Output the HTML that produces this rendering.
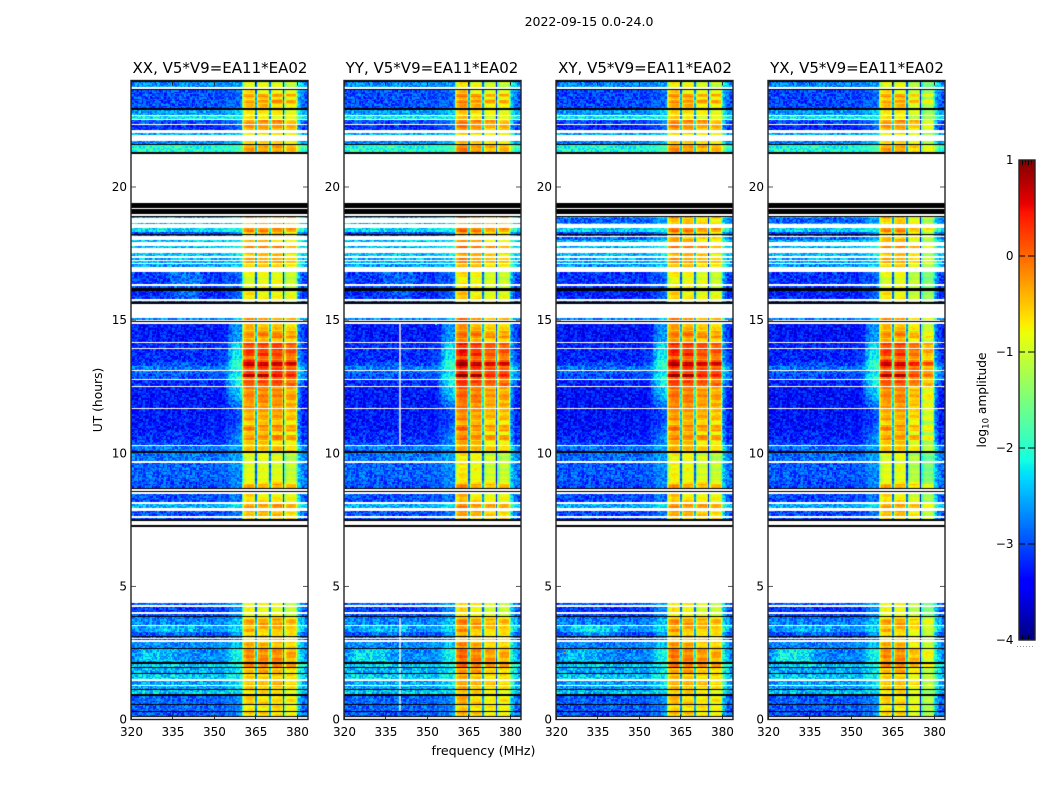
<!DOCTYPE html>
<html>
<head>
<meta charset="utf-8">
<title>Dynamic spectra 2022-09-15</title>
<style>
html,body{margin:0;padding:0;background:#fff;}
#figure{position:relative;width:1050px;height:800px;overflow:hidden;background:#fff;}
canvas{position:absolute;display:block;}
svg{position:absolute;left:0;top:0;}
text{font-family:"DejaVu Sans","Liberation Sans",sans-serif;fill:#000;}
</style>
</head>
<body>
<div id="figure">
<canvas id="hm0" width="177" height="640" style="left:131px;top:80px"></canvas>
<canvas id="hm1" width="177" height="640" style="left:344px;top:80px"></canvas>
<canvas id="hm2" width="177" height="640" style="left:556px;top:80px"></canvas>
<canvas id="hm3" width="177" height="640" style="left:768px;top:80px"></canvas>
<canvas id="cb" width="16" height="480" style="left:1019px;top:160px"></canvas>
<svg id="ov" width="1050" height="800" viewBox="0 0 1050 800">
<text x="589" y="26" text-anchor="middle" font-size="12.5">2022-09-15 0.0-24.0</text>
<text x="220" y="73" text-anchor="middle" font-size="15">XX, V5*V9=EA11*EA02</text>
<text x="432" y="73" text-anchor="middle" font-size="15">YY, V5*V9=EA11*EA02</text>
<text x="645" y="73" text-anchor="middle" font-size="15">XY, V5*V9=EA11*EA02</text>
<text x="857" y="73" text-anchor="middle" font-size="15">YX, V5*V9=EA11*EA02</text>
<text x="483.5" y="755" text-anchor="middle" font-size="12.6">frequency (MHz)</text>
<text transform="translate(102,400) rotate(-90)" text-anchor="middle" font-size="12.3">UT (hours)</text>
<text transform="translate(986,400) rotate(-90)" text-anchor="middle" font-size="12.2">log<tspan font-size="8.5" dy="2.5">10</tspan><tspan dy="-2.5"> amplitude</tspan></text>
</svg>
</div>
<script>
var panelNames = ['xx','yy','xy','yx'];
var freqTicks = [320,335,350,365,380];
var utTicks = [0,5,10,15,20];
var colorTicks = [1,0,-1,-2,-3,-4];

// Time bands, top to bottom: [top UT, low-freq level, hump level, sub-band level, cross-hands-only]
// 'k' = black flagged row, null = white gap, levels are log10 amplitude.
var bandRows = [
[24.00,'k'],[23.94,-2.7,-2.6,-0.9],[23.77,null],[23.69,'k'],
[23.66,-3.0,-2.9,-0.7],[23.50,-3.0,-2.9,-0.25],[23.38,-3.0,-2.9,-0.6],[23.27,-3.0,-2.9,-0.2],[23.15,-3.0,-2.9,-0.5],
[22.95,'k'],[22.91,-2.6,-2.4,-0.7],[22.72,null],[22.68,-2.2,-2.1,-0.75],[22.55,null],
[22.52,-3.0,-2.8,-0.2],[22.37,null],[22.33,-3.2,-2.9,-0.3],[22.15,null],[22.02,-2.5,-2.3,-0.7],[21.95,null],
[21.73,-2.7,-2.5,-0.6],[21.60,'k'],[21.56,-2.0,-1.9,-0.3],[21.32,'k'],[21.23,null],
[19.94,'k'],[19.91,null],[19.39,'k'],[19.21,null],[19.18,'k'],[18.99,null],[18.91,'k'],
[18.87,-2.5,-2.3,-0.2],[18.82,-2.9,-2.6,-0.6,1],[18.66,-2.4,-2.2,-0.5],[18.61,null],
[18.46,-2.3,-2.1,-0.15],[18.31,-3.0,-2.7,-0.5],[18.22,'k'],[18.18,-3.0,-2.7,-0.5],[18.15,null],
[18.11,-2.8,-2.5,-0.5,1],[18.01,-2.4,-2.2,-0.5],[17.92,null],[17.78,-2.4,-2.2,-0.2],[17.70,null],
[17.53,-2.4,-2.2,-0.5],[17.39,null],[17.35,-2.5,-2.3,-0.3],[17.26,null],[17.21,-2.5,-2.3,-0.4],[17.13,null],
[17.10,-2.6,-2.4,-0.5],[17.01,null],[16.90,'k'],[16.87,null],
[16.82,-3.1,-2.9,-0.85],[16.36,null],[16.28,-3.1,-2.9,-0.85],[16.20,'k'],[16.11,-3.2,-2.9,-0.7],[15.78,null],
[15.73,-3.0,-2.8,-0.8],[15.68,'k'],[15.62,null],[15.08,-2.7,-2.5,-0.3],[14.99,null],[14.96,'k'],[14.93,null],
[14.85,-3.3,-2.6,-0.45],[14.59,-3.3,-2.6,-0.15],[14.33,-3.3,-2.6,-0.45],[14.17,null],
[14.13,-3.2,-2.3,0.25],[13.95,null],[13.92,-3.2,-2.1,0.25],[13.65,-3.2,-2.2,-0.05],[13.51,-3.2,-2.0,0.3],
[13.43,-3.0,-1.9,0.7],[13.28,-2.8,-1.9,0.2],[13.12,null],[13.09,-2.9,-2.2,0.2],[12.98,-3.0,-2.1,0.7],
[12.86,-3.0,-2.0,0.1],[12.79,null],[12.75,-3.2,-2.1,0.15],[12.53,null],
[12.49,-3.3,-2.4,-0.2],[12.19,-3.3,-2.5,-0.1],[12.00,-3.3,-2.7,-0.25],[11.70,null],
[11.66,-3.3,-3.0,-0.3],[11.25,-3.3,-3.0,-0.55],[11.07,-3.3,-2.9,-0.15],[10.84,-3.2,-2.9,-0.55],[10.69,-3.2,-2.7,-0.15],[10.50,-3.1,-2.7,-0.55],
[10.31,null],[10.26,-2.8,-2.6,-0.45],[10.08,'k'],[10.02,-2.8,-2.6,-0.9],[9.71,null],
[9.65,-2.9,-2.7,-0.9],[9.00,-3.0,-2.7,-0.7],[8.85,-3.0,-2.7,-0.35],[8.70,'k'],[8.66,null],[8.58,'k'],[8.55,null],
[8.47,-3.0,-2.8,-0.65],[8.17,null],[8.09,-2.5,-2.3,-0.25],[7.93,null],[7.83,-3.0,-2.8,-0.45],[7.64,null],
[7.57,-3.0,-2.8,-0.5],[7.53,'k'],[7.47,null],[7.32,'k'],[7.23,null],
[4.36,-2.9,-2.6,-0.8],[4.30,null],[4.24,-3.1,-2.8,-0.85],[4.04,null],[3.96,-3.0,-2.7,-0.7],[3.89,'k'],[3.85,-2.8,-2.5,-0.6],[3.79,'k'],
[3.77,-2.7,-2.4,-0.3],[3.54,null],[3.50,-2.6,-2.3,-0.4],[3.30,-3.0,-2.6,-0.6],[3.14,'k'],[3.11,-2.8,-2.5,-0.5],[3.07,null],[3.03,-3.0,-2.7,-0.6],[3.00,null],
[2.92,-2.7,-2.4,-0.4],[2.67,'k'],[2.64,-2.7,-2.1,-0.2],[2.16,'k'],[2.10,-2.35,-2.2,-0.2],[1.96,'k'],[1.92,-2.5,-2.2,-0.4],[1.76,'k'],
[1.72,-2.45,-2.2,-0.55],[1.52,null],[1.45,-2.55,-2.3,-0.35],[1.30,null],[1.26,-2.55,-2.3,-0.55],[1.13,'k'],[1.10,-2.4,-2.2,-0.65],[0.96,'k'],
[0.88,-2.9,-2.7,-0.55],[0.58,'k'],[0.54,-2.9,-2.7,-0.65],[0.32,'k'],[0.27,-2.95,-2.7,-0.55],[0.13,'k'],[0.09,null]
];

// Per-polarisation offsets, by 5 MHz sub-band and for the quiet low band
var panelSubGain = [[0,0,0,-0.15],[0.2,0.05,-0.12,-0.15],[0.12,0.05,-0.08,-0.15],[0,0,-0.28,-0.6]];
var panelLowShift = [0,0,-0.05,-0.05];

// Spectral shape from 360 MHz in 0.5 MHz channels, relative to the sub-band level
var subShape = [-1.2,-0.4,-0.15,-0.05,0,0,0,0,-0.05,-0.35,-2.1,-0.5,-0.1,-0.02,0,0,0,0,0,-0.35,-1.9,-0.5,-0.15,-0.03,0,0,0,0,0,-0.4,-2.5,-0.6,-0.15,-0.05,0,0,0,0,-0.05,-0.5];
// Rise towards the band from 350 MHz in 0.5 MHz channels (fraction of hump level)
var humpRamp = [0,0,0,0,0.03,0.05,0.08,0.12,0.2,0.3,0.45,0.6,0.7,0.8,0.85,0.9,0.95,1,1,1];
// Tail above 380 MHz in 0.5 MHz channels, relative to low level
var tailShape = [0.9,0.55,0.35,0.25,0.15,0.1,0.05,0];

// Broad low-frequency patches: [panel (-1 = all), UT top, UT bottom, f low, f high, delta]
var lowPatches = [
[0,16.85,15.7,332,347,0.3],[1,16.85,15.7,332,347,0.2],[-1,3.5,3.1,326,345,0.15],[2,3.5,3.1,322,342,0.25],
[-1,2.65,2.2,320,338,0.25],[1,2.65,2.2,320,338,0.15],[3,2.65,2.2,320,338,0.3],[-1,1.7,1.5,320,345,0.15]
];
// Narrow features: [panel, frequency, UT top, UT bottom, level]
var spikes = [
[2,342,2.9,2.2,0.1],[3,342,2.9,2.3,0.1],[2,323,2.8,2.4,-0.3],[0,343,2.7,2.3,-0.4],[0,325,2.7,2.4,-0.4],
[1,358,3.0,2.6,-1.2],[1,353,15.0,14.7,-2.0]
];
// Pale vertical interference lines: [panel, frequency, UT top, UT bottom]
var paleLines = [[1,340,14.85,10.3],[1,340,3.8,0.3]];
// Small fine-grain texture added to every cell (an approximation of the visible noise)
var grain = [0.12,-0.21,0.3,-0.08,0.18,-0.27,0.05,0.24,-0.15,-0.02,0.28,-0.3,0.09,-0.12,0.2,-0.24,0.15,0.02,-0.18,0.26,-0.06,-0.28,0.11,0.22,-0.1,0.07,-0.2,0.29,-0.04,0.16,-0.26,0.01,0.21,-0.16,0.13,-0.22,0.25,-0.11,0.04,0.19,-0.29];
// Horizontal streak offsets across the sub-bands, one per 0.11 h (approximate)
var subStreaks = [0.1,-0.15,0.2,0.05,-0.25,0.15,-0.05,0.25,-0.2,0,0.18,-0.1,-0.28,0.12,0.22,-0.12,0.04,-0.22,0.16,0.08,-0.18,0.26,-0.08];

var jetR = [[0,0],[0.35,0],[0.66,1],[0.89,1],[1,0.5]];
var jetG = [[0,0],[0.125,0],[0.375,1],[0.64,1],[0.91,0],[1,0]];
var jetB = [[0,0.5],[0.11,1],[0.34,1],[0.65,0],[1,0]];

var axisLeft = [131,344,556,768];
var axisW = 177, yBottomPx = 719.5, pxPerHour = 26.625, pxPerMHz = 177/64;
function xScale(p,f){return axisLeft[p]+(f-320)*pxPerMHz;}
function yScale(ut){return yBottomPx-ut*pxPerHour;}
function cbScale(v){return 640-(v+4)*96;}

function lerpStops(s,t){
  for(var i=1;i<s.length;i++){
    if(t<=s[i][0]){return s[i-1][1]+(s[i][1]-s[i-1][1])*(t-s[i-1][0])/(s[i][0]-s[i-1][0]);}
  }
  return s[s.length-1][1];
}
function jet(v){
  var t=Math.max(0,Math.min(1,(v+4)/5));
  return [lerpStops(jetR,t)*255,lerpStops(jetG,t)*255,lerpStops(jetB,t)*255];
}
function findRow(ut){
  for(var i=0;i<bandRows.length;i++){
    var next=i+1<bandRows.length?bandRows[i+1][0]:0;
    if(ut<=bandRows[i][0]&&ut>next){return bandRows[i];}
  }
  return [0,null];
}
function cellValue(p,row,f,rowIdx,c,ut){
  var low=row[1]+panelLowShift[p];
  var hump=(row[2]!==undefined?row[2]:row[1]+0.3);
  var g=grain[(c*7+rowIdx*13+((c*rowIdx)%5))%grain.length];
  if(f>=360&&f<380){
    var sb=Math.min(3,Math.floor((f-360)/5));
    var st=subStreaks[(Math.floor(ut/0.11)+sb*5)%subStreaks.length];
    return row[3]+panelSubGain[p][sb]+subShape[Math.round((f-360)*2)]+g*0.3+st*0.6;
  }
  if(f>=380){return low+tailShape[Math.min(7,Math.round((f-380)*2))]+g*1.2;}
  if(f>=350){return low+(hump-low)*humpRamp[Math.round((f-350)*2)]+g;}
  return low+g*1.3;
}
function drawHeatmap(p){
  var ctx=document.getElementById('hm'+p).getContext('2d');
  var img=ctx.createImageData(177,640),d=img.data;
  for(var y=0;y<640;y++){
    var ut=(yBottomPx-(80+y+0.5))/pxPerHour;
    var row=ut>24?[0,'k']:(ut<0?[0,null]:findRow(ut));
    var rowIdx=Math.floor(y/1.4);
    for(var x=0;x<177;x++){
      var f=320+(x+0.5)/pxPerMHz;
      var c=Math.floor((f-320)*2);
      f=320+c*0.5;
      var col;
      var blank=row[1]===null||(row[4]===1&&(p===0||p===1));
      if(row[1]==='k'){col=[0,0,0];}
      else if(blank){col=[255,255,255];}
      else{
        var v=cellValue(p,row,f,rowIdx,c,ut);
        if(f<360){
          for(var k=0;k<lowPatches.length;k++){
            var a=lowPatches[k];
            if((a[0]<0||a[0]===p)&&ut<=a[1]&&ut>a[2]&&f>=a[3]&&f<a[4]){
              v+=a[5]*Math.min(1,(f-a[3])/4,(a[4]-f)/4);
            }
          }
        }
        for(var s=0;s<spikes.length;s++){
          var b=spikes[s];
          if(b[0]===p&&Math.abs(f-b[1])<0.26&&ut<=b[2]&&ut>b[3]&&rowIdx%3===0){v=b[4];}
        }
        col=jet(v);
        for(var q=0;q<paleLines.length;q++){
          var l=paleLines[q];
          if(l[0]===p&&Math.abs(f-l[1])<0.26&&ut<=l[2]&&ut>l[3]){
            col=[col[0]*0.3+178,col[1]*0.3+178,col[2]*0.3+170];
          }
        }
      }
      var i=(y*177+x)*4;
      d[i]=col[0];d[i+1]=col[1];d[i+2]=col[2];d[i+3]=255;
    }
  }
  ctx.putImageData(img,0,0);
}
function drawColorbar(){
  var ctx=document.getElementById('cb').getContext('2d');
  for(var y=0;y<480;y++){
    var v=1-(y+0.5)/96;
    var c=jet(v);
    ctx.fillStyle='rgb('+Math.round(c[0])+','+Math.round(c[1])+','+Math.round(c[2])+')';
    ctx.fillRect(0,y,16,1);
  }
}
var NS='http://www.w3.org/2000/svg';
var ov=document.getElementById('ov');
function addLine(x1,y1,x2,y2,name,w,color){
  var el=document.createElementNS(NS,'line');
  el.setAttribute('x1',x1);el.setAttribute('y1',y1);el.setAttribute('x2',x2);el.setAttribute('y2',y2);
  el.setAttribute('stroke',color||'#000');el.setAttribute('stroke-width',w||1);
  
  
  ov.appendChild(el);
  return el;
}
function addLabel(x,y,txt,anchor,name){
  var el=document.createElementNS(NS,'text');
  el.setAttribute('x',x);el.setAttribute('y',y);el.setAttribute('text-anchor',anchor);el.setAttribute('font-size','12');
  el.textContent=txt;
  
  
  ov.appendChild(el);
}
function fmt(v){return v<0?'\u2212'+(-v):''+v;}
function drawAxes(p){
  var L=xScale(p,320),R=L+axisW,T=yScale(24),B=yScale(0);
  var n=panelNames[p];
  freqTicks.forEach(function(f){
    var x=xScale(p,f);
    var xr=Math.round(x)+0.5;
    addLine(xr,B,xr,B-5,'x-tick-'+n+'-'+f,0.9,'#222');
    addLine(xr,T,xr,T+5,'x-tick-top-'+n+'-'+f,0.9,'#222');
    addLabel(x+0.5,736,''+f,'middle','x-tick-label-'+n+'-'+f);
  });
  utTicks.forEach(function(u){
    var y=yScale(u);
    addLine(L,y,L+5,y,'y-tick-'+n+'-'+u,0.9,'#444');
    addLine(R,y,R-5,y,'y-tick-right-'+n+'-'+u,0.9,'#444');
    addLabel(L-4,y+4,''+u,'end','y-tick-label-'+n+'-'+u);
  });
  var el=document.createElementNS(NS,'rect');
  el.setAttribute('x',L);el.setAttribute('y',T);el.setAttribute('width',axisW);el.setAttribute('height',B-T);
  el.setAttribute('fill','none');el.setAttribute('stroke','#222');el.setAttribute('stroke-width','1.4');
  
  
  ov.appendChild(el);
}
function drawColorbarAxis(){
  colorTicks.forEach(function(v){
    var y=cbScale(v);
    if(v>-4&&v<1){
      addLine(1019,y,1025,y,'colorbar-tick-left-'+v,1);
      addLine(1028,y,1034.5,y,'colorbar-tick-right-'+v,1);
    }
    addLabel(1013.5,y+4,fmt(v),'end','colorbar-tick-label-'+v);
  });
  [1022,1025,1028,1031].forEach(function(x,i){
    addLine(x+0.5,160,x+0.5,165,'colorbar-minor-top-'+i,1);
    addLine(x+0.5,640,x+0.5,635,'colorbar-minor-bottom-'+i,1);
  });
  var r=document.createElementNS(NS,'rect');
  r.setAttribute('x',1019);r.setAttribute('y',160);r.setAttribute('width',16);r.setAttribute('height',480);
  r.setAttribute('fill','none');r.setAttribute('stroke','#222');r.setAttribute('stroke-width','1.4');
  
  
  ov.appendChild(r);
  var dots=addLine(1017,646.5,1035,646.5,'colorbar-minor-dots',1,'#999');
  dots.setAttribute('stroke-dasharray','1 2');
}
for(var p=0;p<4;p++){drawHeatmap(p);drawAxes(p);}
drawColorbar();
drawColorbarAxis();
</script>
</body>
</html>
